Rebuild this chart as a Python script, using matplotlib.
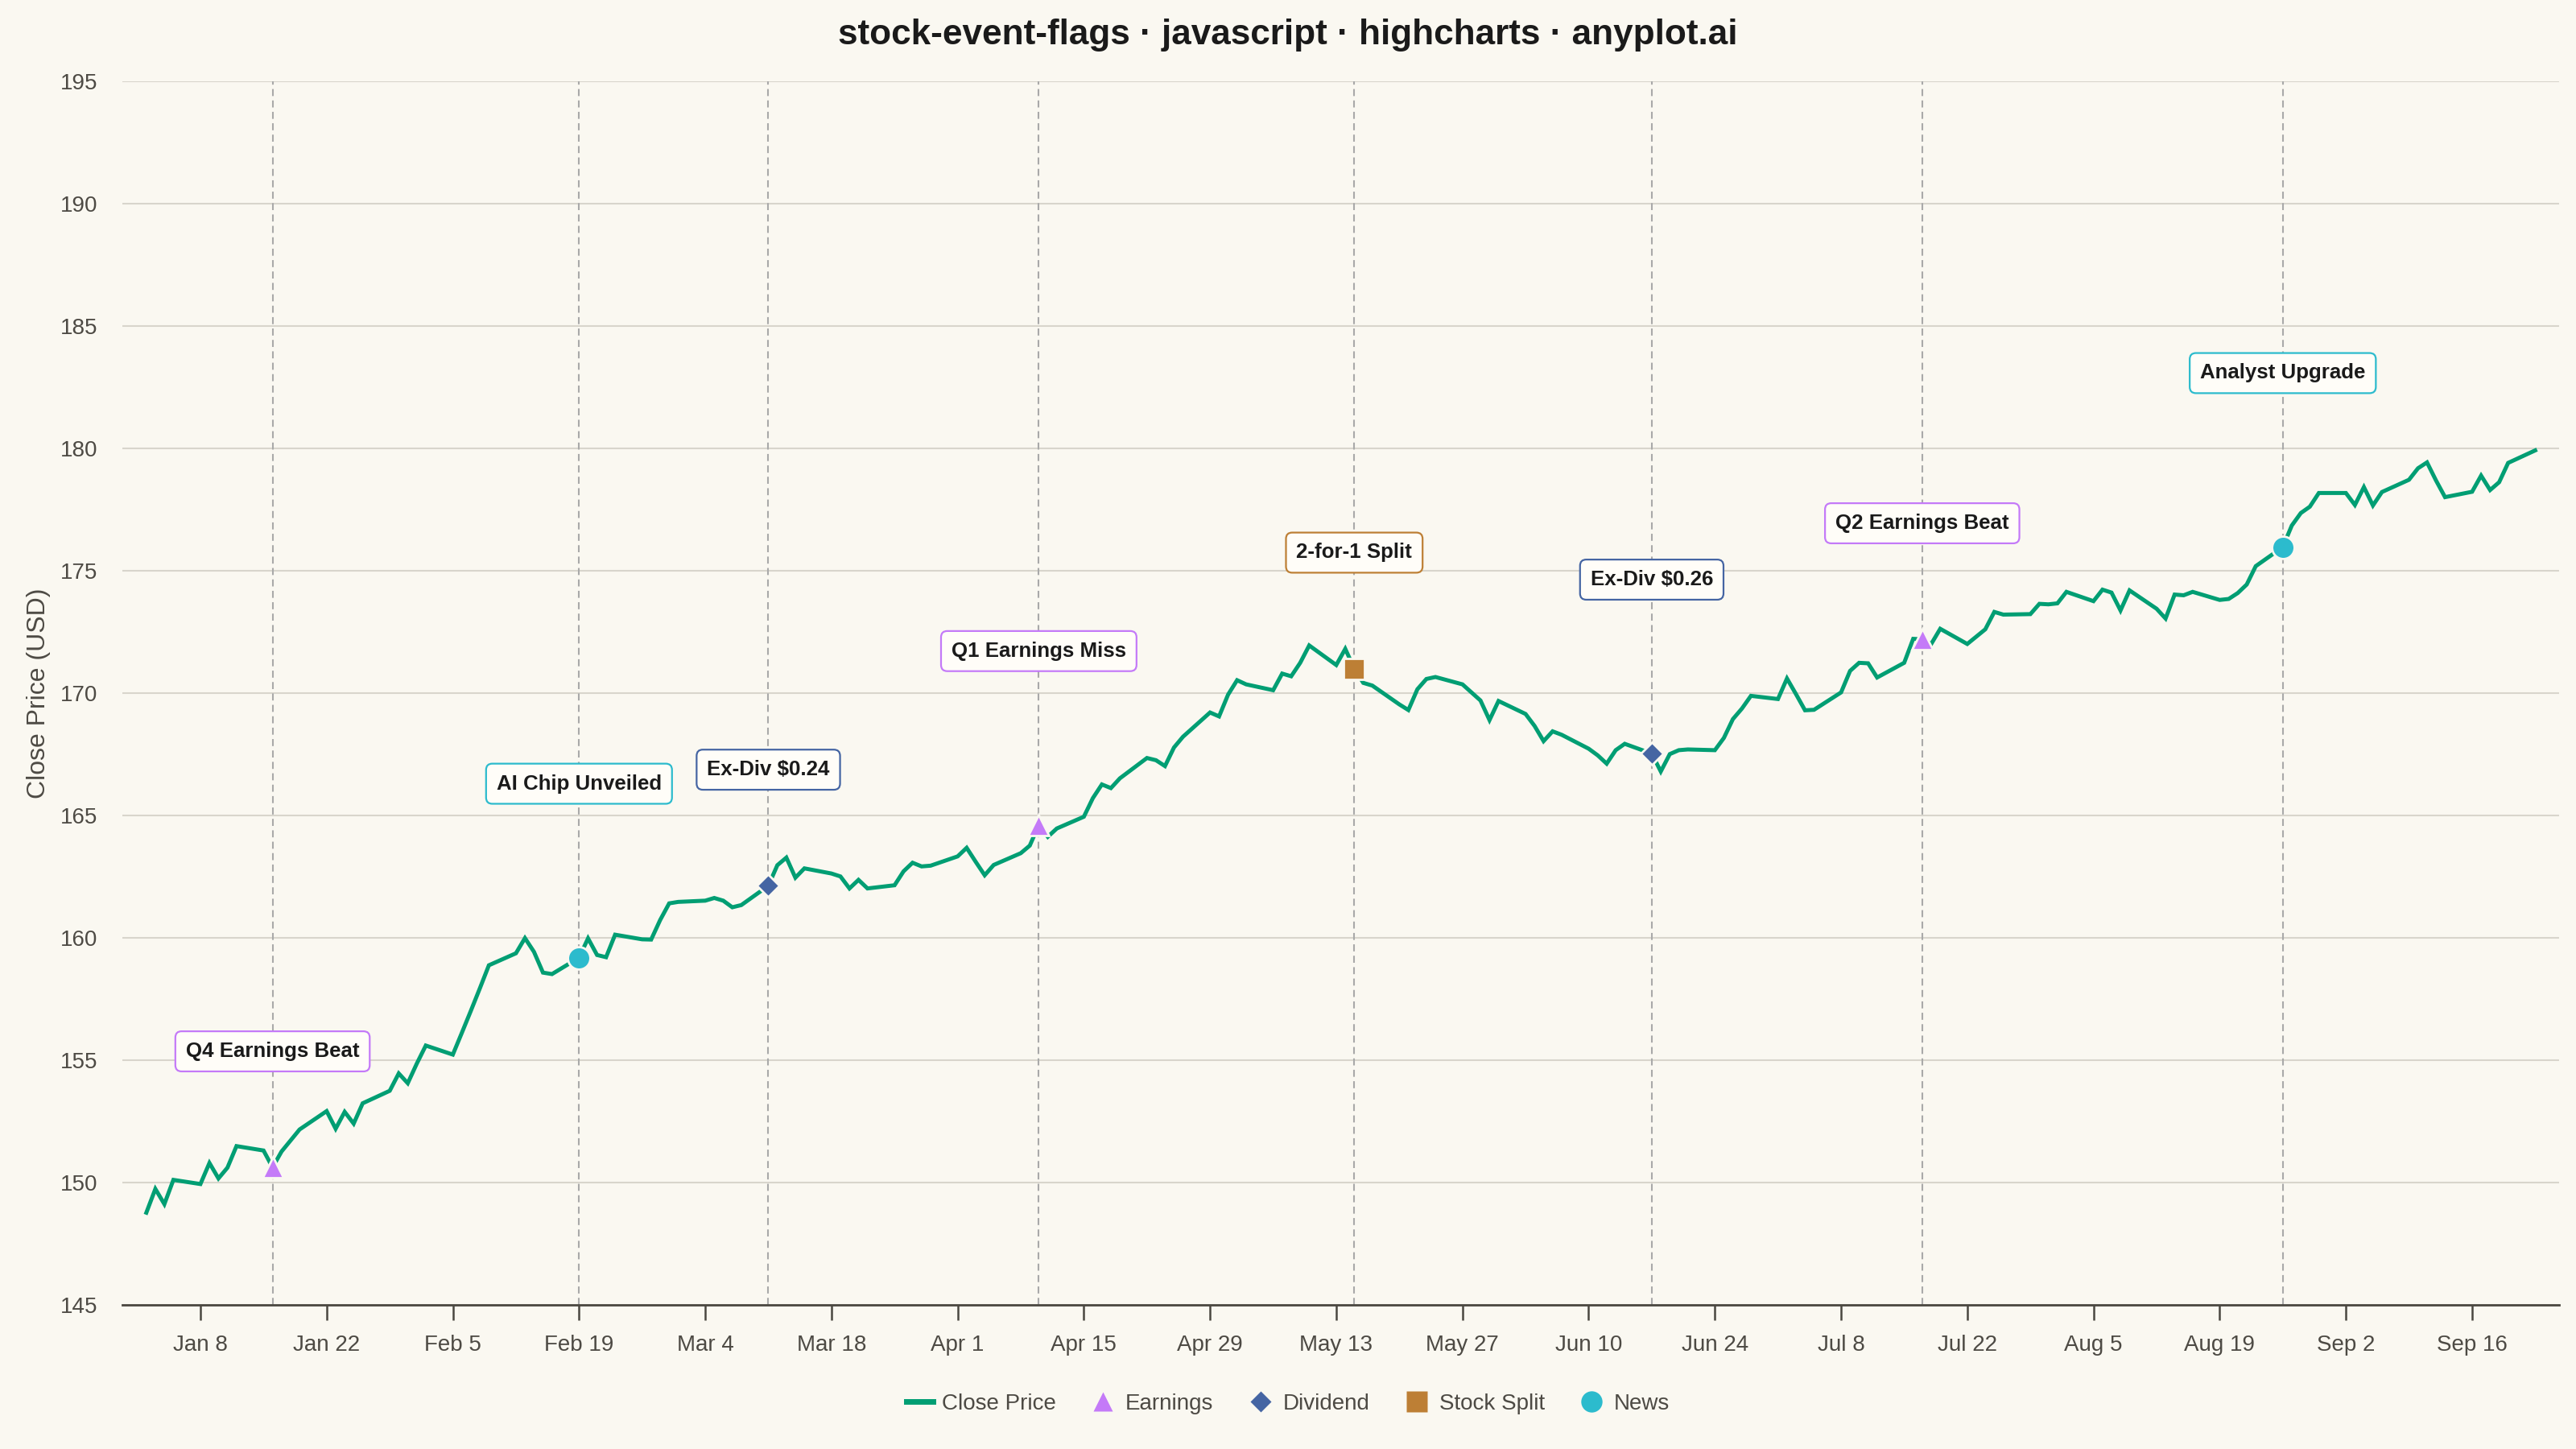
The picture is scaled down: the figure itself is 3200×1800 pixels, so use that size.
import matplotlib
matplotlib.use('Agg')
import matplotlib.pyplot as plt
from matplotlib.lines import Line2D
import pandas as pd

# Precios de cierre diarios (dias habiles 2024-01-02 .. 2024-09-23)
close = [
    148.76, 149.73, 149.11, 150.10,
    149.93, 150.79, 150.16, 150.60, 151.48,
    151.30, 150.61, 151.26, 151.71, 152.16,
    152.91, 152.19, 152.88, 152.40, 153.23,
    153.74, 154.45, 154.05, 154.85, 155.59,
    155.22, 156.11, 157.01, 157.93, 158.87,
    159.36, 159.98, 159.42, 158.57, 158.51,
    159.18, 159.97, 159.29, 159.20, 160.12,
    159.93, 159.92, 160.72, 161.40, 161.46,
    161.51, 161.62, 161.51, 161.24, 161.33,
    162.12, 162.96, 163.27, 162.45, 162.83,
    162.62, 162.50, 162.01, 162.36, 162.01,
    162.14, 162.71, 163.06, 162.91, 162.94,
    163.32, 163.67, 163.10, 162.55, 162.97,
    163.45, 163.76, 164.60, 164.12, 164.46,
    164.94, 165.70, 166.26, 166.11, 166.51,
    167.34, 167.25, 167.01, 167.77, 168.21,
    169.20, 169.04, 169.93, 170.52, 170.35,
    170.11, 170.79, 170.68, 171.23, 171.94,
    171.14, 171.80, 170.99, 170.41, 170.30,
    169.53, 169.30, 170.15, 170.57, 170.65,
    170.35, 170.02, 169.69, 168.89, 169.67,
    169.14, 168.65, 168.03, 168.43, 168.29,
    167.72, 167.45, 167.11, 167.66, 167.92,
    167.52, 166.79, 167.50, 167.66, 167.69,
    167.66, 168.16, 168.93, 169.36, 169.88,
    169.75, 170.59, 169.95, 169.29, 169.31,
    170.02, 170.90, 171.23, 171.21, 170.63,
    171.23, 172.21, 172.19, 172.00, 172.62,
    172.00, 172.30, 172.60, 173.31, 173.20,
    173.22, 173.64, 173.62, 173.66, 174.13,
    173.75, 174.22, 174.10, 173.37, 174.19,
    173.44, 173.04, 174.02, 173.99, 174.13,
    173.80, 173.84, 174.08, 174.43, 175.18,
    175.96, 176.84, 177.35, 177.61, 178.17,
    178.17, 177.68, 178.41, 177.66, 178.21,
    178.71, 179.18, 179.42, 178.68, 178.00,
    178.22, 178.88, 178.29, 178.61, 179.40,
    179.91,
]
dates = pd.bdate_range('2024-01-02', '2024-09-23')

# Eventos
event_dates = ['2024-01-16', '2024-02-19', '2024-03-11', '2024-04-10',
               '2024-05-15', '2024-06-17', '2024-07-17', '2024-08-26']
event_labels = ['Q4 Earnings Beat', 'AI Chip Unveiled', 'Ex-Div $0.24', 'Q1 Earnings Miss',
                '2-for-1 Split', 'Ex-Div $0.26', 'Q2 Earnings Beat', 'Analyst Upgrade']
event_types = ['Earnings', 'News', 'Dividend', 'Earnings',
               'Stock Split', 'Dividend', 'Earnings', 'News']

type_order = ['Earnings', 'Dividend', 'Stock Split', 'News']
estilos = {
    'Earnings': ('^', '#C47AF8', 9.2),
    'Dividend': ('D', '#4565A3', 7.0),
    'Stock Split': ('s', '#BD7F35', 9.6),
    'News': ('o', '#2CBBCD', 10.0),
}

BG = '#FAF8F1'
VERDE = '#009E73'
GRIS_TXT = '#4D4A44'

plt.rcParams['font.family'] = ['Liberation Sans', 'DejaVu Sans']

serie = pd.Series(close, index=dates)

fig, ax = plt.subplots(figsize=(16, 9), dpi=200)
fig.patch.set_facecolor(BG)
ax.set_facecolor(BG)
fig.subplots_adjust(left=0.0475, right=0.9935, top=0.944, bottom=0.0996)

# linea de precio
ax.plot(serie.index, serie.values, color=VERDE, lw=1.8, zorder=3,
        solid_joinstyle='miter')

# lineas verticales, marcadores y banderas
for i, (d, lab, tipo) in enumerate(zip(event_dates, event_labels, event_types)):
    fecha = pd.Timestamp(d)
    y = serie[fecha]
    marker, color, ms = estilos[tipo]
    ax.axvline(fecha, color='#A9A9A9', lw=0.75, ls=(0, (4.2, 2.6)), zorder=1)
    ax.plot([fecha], [y], marker=marker, color=color, ms=ms, mec=BG, mew=1.0,
            ls='none', zorder=4)
    off = 51.9 if i % 2 == 0 else 77.8
    ax.annotate(lab, xy=(fecha, y), xytext=(0, off), textcoords='offset points',
                ha='center', va='center', fontsize=9.3, fontweight='bold',
                color='#1A1A1A', zorder=6,
                bbox=dict(boxstyle='round,pad=0.5,rounding_size=0.3',
                          fc='#FFFDF8', ec=color, lw=0.8))

# ejes
ax.set_ylim(145, 195)
ax.set_yticks(range(145, 196, 5))
ax.set_xlim(dates[0] - pd.Timedelta(days=2.66), dates[-1] + pd.Timedelta(days=2.67))
ticks = pd.date_range('2024-01-08', '2024-09-16', freq='14D')
ax.set_xticks(ticks)
ax.set_xticklabels([f'{t:%b} {t.day}' for t in ticks])

ax.yaxis.grid(True, color='#D8D5CC', lw=0.75, zorder=0)
ax.set_axisbelow(True)
for lado in ['top', 'right', 'left']:
    ax.spines[lado].set_visible(False)
ax.spines['bottom'].set_color('#4A4740')
ax.spines['bottom'].set_linewidth(1.0)
ax.spines['bottom'].set_zorder(2)

ax.tick_params(axis='y', length=0, pad=11, labelsize=10, labelcolor=GRIS_TXT)
ax.tick_params(axis='x', length=6.7, width=0.9, color='#4A4740', pad=6.7,
               labelsize=10, labelcolor=GRIS_TXT)

ax.set_ylabel('Close Price (USD)', fontsize=11.5, color=GRIS_TXT)
ax.yaxis.set_label_coords(-0.0293, 0.5)

fig.text(0.5, 0.9758, 'stock-event-flags · javascript · highcharts · anyplot.ai',
         ha='center', va='center', fontsize=15.9, fontweight='bold', color='#1A1A1A')

# leyenda
handles = [Line2D([], [], color=VERDE, lw=2.5, label='Close Price')]
for t in type_order:
    marker, color, ms = estilos[t]
    handles.append(Line2D([], [], marker=marker, color=color, ms=ms * 0.95,
                          mec='none', ls='none', label=t))
fig.legend(handles=handles, loc='center', bbox_to_anchor=(0.5, 0.031), ncol=5,
           frameon=False, fontsize=10, handlelength=1.2, handletextpad=0.4,
           columnspacing=1.5, labelcolor=GRIS_TXT)

plt.savefig('out.png', dpi=200, facecolor=BG)
